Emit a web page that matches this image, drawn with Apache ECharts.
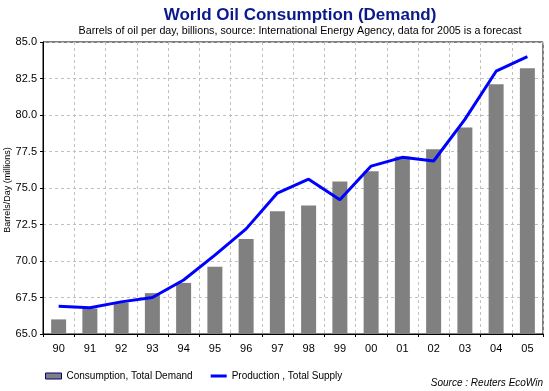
<!DOCTYPE html>
<html>
<head>
<meta charset="utf-8">
<script src="https://cdn.jsdelivr.net/npm/echarts@6/dist/echarts.min.js"></script>
<style>html,body{margin:0;padding:0;background:#fff;}#chart{width:549px;height:391px;}</style>
</head>
<body>
<div id="chart"></div>
<script>
var categories = ['90','91','92','93','94','95','96','97','98','99','00','01','02','03','04','05'];
var consumption = [66.0, 66.75, 67.15, 67.8, 68.5, 69.6, 71.5, 73.4, 73.8, 75.45, 76.15, 77.15, 77.65, 79.15, 82.1, 83.2];
var production = [66.9, 66.8, 67.2, 67.5, 68.7, 70.4, 72.2, 74.65, 75.6, 74.2, 76.5, 77.1, 76.85, 79.7, 83.0, 84.0];
var yTicks = { min: 65, max: 85, interval: 2.5 };

var FONT = 'Liberation Sans, Arial, sans-serif';
var chart = echarts.init(document.getElementById('chart'), null, { renderer: 'canvas' });
chart.setOption({
  animation: false,
  backgroundColor: '#ffffff',
  title: [{
    text: 'World Oil Consumption (Demand)',
    left: 295, top: 2, textAlign: 'center',
    textStyle: { fontFamily: FONT, fontSize: 17, fontWeight: 'bold', color: '#0a1a8c' }
  }, {
    text: 'Barrels of oil per day, billions, source: International Energy Agency, data for 2005 is a forecast',
    left: 295, top: 21, textAlign: 'center',
    textStyle: { fontFamily: FONT, fontSize: 10.7, fontWeight: 'normal', color: '#000' }
  }],
  grid: {
    left: 43, right: 6, top: 42, bottom: 57,
    outerBoundsMode: 'none', containLabel: false,
    show: true, borderColor: '#000', borderWidth: 1, backgroundColor: 'transparent'
  },
  legend: {
    left: 45, top: 371, padding: 0, itemWidth: 16, itemHeight: 6, itemGap: 18,
    textStyle: { fontFamily: FONT, fontSize: 10, color: '#000' },
    data: [
      { name: 'Consumption, Total Demand', icon: 'rect', itemStyle: { color: '#808080', borderColor: '#000080', borderWidth: 1 } },
      { name: 'Production , Total Supply', icon: 'path://M0,0 L16,0 L16,3 L0,3 Z', itemStyle: { color: '#0000ff' } }
    ]
  },
  graphic: [{
    type: 'text', right: 6, top: 378,
    style: { text: 'Source : Reuters EcoWin', fontFamily: FONT, fontSize: 10, fontStyle: 'italic', fill: '#000' }
  }, {
    type: 'text', x: 8, y: 190, rotation: Math.PI / 2,
    style: { text: 'Barrels/Day (millions)', fontFamily: FONT, fontSize: 9, fill: '#000',
      align: 'center', verticalAlign: 'middle' }
  }],
  xAxis: {
    type: 'category', data: categories, boundaryGap: true,
    axisLine: { lineStyle: { color: '#000', width: 1 } },
    axisTick: { show: true, length: 3, lineStyle: { color: '#000' } },
    axisLabel: { fontFamily: FONT, fontSize: 11, color: '#000', margin: 9 },
    splitLine: { show: true, lineStyle: { color: '#c0c0c0', type: [3, 3], width: 1 } }
  },
  yAxis: {
    type: 'value', min: yTicks.min, max: yTicks.max, interval: yTicks.interval,
    axisLine: { show: true, lineStyle: { color: '#000', width: 1 } },
    axisTick: { show: true, length: 3, lineStyle: { color: '#000' } },
    axisLabel: { fontFamily: FONT, fontSize: 11, color: '#000', margin: 6,
      formatter: function (v) { return v.toFixed(1); } },
    splitLine: { show: true, lineStyle: { color: '#c0c0c0', type: [3, 3], width: 1 } }
  },
  series: [{
    name: 'Consumption, Total Demand', type: 'bar', data: consumption, barWidth: '48%',
    itemStyle: { color: '#808080' }
  }, {
    name: 'Production , Total Supply', type: 'line', data: production, symbol: 'none',
    lineStyle: { color: '#0000ff', width: 3 }, itemStyle: { color: '#0000ff' }, z: 5
  }]
});
</script>
</body>
</html>
